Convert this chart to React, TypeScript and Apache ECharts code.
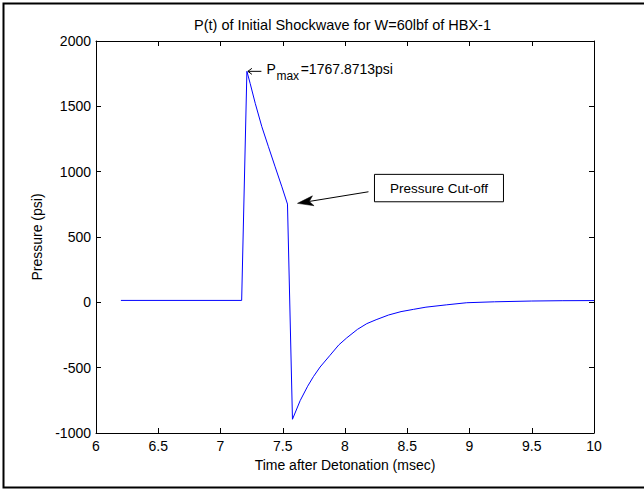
import React, { useEffect, useRef } from "react";
import * as echarts from "echarts";

const titleText = "P(t) of Initial Shockwave for W=60lbf of HBX-1";
const xAxisName = "Time after Detonation (msec)";
const yAxisName = "Pressure (psi)";

const timeMs = [
  6.2, 7.17, 7.212, 7.238, 7.279, 7.332, 7.385, 7.439, 7.493, 7.538,
  7.578, 7.64, 7.7, 7.746, 7.8, 7.88, 7.95, 8.014, 8.1, 8.175,
  8.25, 8.35, 8.45, 8.549, 8.65, 8.817, 8.978, 9.2, 9.5, 9.75, 10,
];
const pressurePsi = [
  14.7, 14.7, 1767.87, 1676, 1523, 1344, 1191, 1037, 884, 752,
  -895, -752, -642, -569, -495, -405, -326, -272, -207, -163,
  -133, -97, -71, -54, -37, -19, -3, 4, 10, 12.5, 13.5,
];
const peakIndex = 2;
const cutoffIndex = 9;
const peakSymbol = "P";
const peakSub = "max";
const peakValueText = "=1767.8713psi";
const cutoffLabel = "Pressure Cut-off";

const xMin = 6;
const xMax = 10;
const xStep = 0.5;
const yMin = -1000;
const yMax = 2000;
const yStep = 500;

const FONT = "'Liberation Sans', Arial, Helvetica, sans-serif";

export default function App() {
  const ref = useRef<HTMLDivElement>(null);

  useEffect(() => {
    document.body.style.margin = "0";
    const chart = echarts.init(ref.current!, undefined, { renderer: "svg" });
    const lineStyle = { color: "#000", width: 1 };
    const baseX = {
      type: "value",
      min: xMin,
      max: xMax,
      interval: xStep,
      axisLine: { show: true, onZero: false, lineStyle },
      axisTick: { show: true, inside: true, length: 5, lineStyle },
      splitLine: { show: false },
    };
    const baseY = {
      type: "value",
      min: yMin,
      max: yMax,
      interval: yStep,
      axisLine: { show: true, onZero: false, lineStyle },
      axisTick: { show: true, inside: true, length: 5, lineStyle },
      splitLine: { show: false },
    };
    chart.setOption({
      animation: false,
      backgroundColor: "#ffffff",
      grid: { left: 96, top: 41, right: 50, bottom: 56 },
      xAxis: [
        {
          ...baseX,
          position: "bottom",
          axisLabel: {
            margin: 6,
            color: "#000",
            fontSize: 14,
            fontFamily: FONT,
            formatter: (v: number) => String(v),
          },
        },
        { ...baseX, position: "top", axisLabel: { show: false } },
      ],
      yAxis: [
        {
          ...baseY,
          position: "left",
          axisLabel: {
            margin: 5,
            color: "#000",
            fontSize: 14,
            fontFamily: FONT,
            formatter: (v: number) => String(v),
          },
        },
        { ...baseY, position: "right", axisLabel: { show: false } },
      ],
      series: [
        {
          type: "line",
          xAxisIndex: 0,
          yAxisIndex: 0,
          data: timeMs.map((t, i) => [t, pressurePsi[i]]),
          symbol: "none",
          showSymbol: false,
          smooth: false,
          lineStyle: { color: "#0000ff", width: 1 },
        },
      ],
    });

    const toPx = (t: number, p: number) =>
      chart.convertToPixel({ xAxisIndex: 0, yAxisIndex: 0 }, [t, p]) as number[];
    const [px, py] = toPx(timeMs[peakIndex], pressurePsi[peakIndex]);
    const [cx, cy] = toPx(timeMs[cutoffIndex], pressurePsi[cutoffIndex]);
    const [gx0, gyTop] = toPx(xMin, yMax);
    const [gx1, gyBot] = toPx(xMax, yMin);
    const midX = (gx0 + gx1) / 2;
    const midY = (gyTop + gyBot) / 2;

    // cut-off arrow geometry
    const tipX = cx + 10;
    const tipY = cy - 0.7;
    const startX = cx + 81;
    const startY = cy - 12.3;
    const dx = startX - tipX;
    const dy = startY - tipY;
    const len = Math.hypot(dx, dy);
    const ux = dx / len;
    const uy = dy / len;
    const nx = -uy;
    const ny = ux;
    const backX = tipX + 16 * ux;
    const backY = tipY + 16 * uy;
    const notchX = tipX + 12 * ux;
    const notchY = tipY + 12 * uy;

    const txt = (x: number, y: number, text: string, size: number, align = "left", vAlign = "middle") => ({
      type: "text",
      x,
      y,
      style: {
        text,
        fill: "#000",
        fontSize: size,
        fontFamily: FONT,
        align,
        verticalAlign: vAlign,
      },
    });

    chart.setOption({
      graphic: [
        {
          type: "rect",
          shape: { x: 3.5, y: 3.5, width: 700, height: 484 },
          style: { fill: "none", stroke: "#000", lineWidth: 2 },
          silent: true,
        },
        txt(midX - 2.5, 24.5, titleText, 14.5, "center"),
        txt(midX, 465, xAxisName, 14, "center"),
        {
          type: "text",
          x: 37,
          y: midY,
          rotation: Math.PI / 2,
          style: {
            text: yAxisName,
            fill: "#000",
            fontSize: 14,
            fontFamily: FONT,
            align: "center",
            verticalAlign: "middle",
          },
        },
        // Pmax annotation
        {
          type: "line",
          shape: { x1: px + 1, y1: py, x2: px + 14.5, y2: py },
          style: { stroke: "#000", lineWidth: 1 },
        },
        {
          type: "polyline",
          shape: { points: [[px + 5, py - 3], [px + 1, py], [px + 5, py + 3]] },
          style: { stroke: "#000", lineWidth: 1, fill: "none" },
        },
        txt(px + 19.6, py - 2, peakSymbol, 14),
        txt(px + 29.5, py + 5, peakSub, 12),
        txt(px + 53.8, py - 2, peakValueText, 14),
        // cut-off annotation
        {
          type: "line",
          shape: { x1: startX, y1: startY, x2: notchX, y2: notchY },
          style: { stroke: "#000", lineWidth: 1 },
        },
        {
          type: "polygon",
          shape: {
            points: [
              [tipX, tipY],
              [backX + 5 * nx, backY + 5 * ny],
              [notchX, notchY],
              [backX - 5 * nx, backY - 5 * ny],
            ],
          },
          style: { fill: "#000", stroke: "#000", lineWidth: 0.5 },
        },
        {
          type: "rect",
          shape: { x: cx + 87, y: cy - 29.7, width: 129, height: 27.4 },
          style: { fill: "#fff", stroke: "#000", lineWidth: 1 },
        },
        txt(cx + 87 + 64.5, cy - 29.7 + 13.7, cutoffLabel, 13.5, "center"),
      ],
    });

    return () => chart.dispose();
  }, []);

  return <div ref={ref} style={{ width: 644, height: 489 }} />;
}
